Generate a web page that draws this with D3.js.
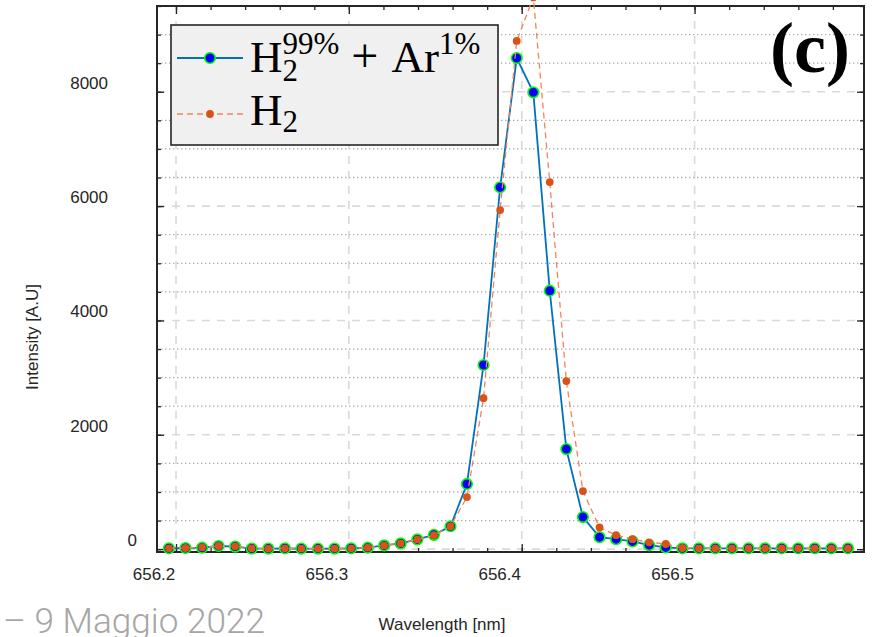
<!DOCTYPE html>
<html>
<head>
<meta charset="utf-8">
<script src="https://cdnjs.cloudflare.com/ajax/libs/d3/7.8.5/d3.min.js"></script>
<style>
  body { margin: 0; background: #ffffff; }
  svg { display: block; }
</style>
</head>
<body>
<div id="spectrum"></div>
<script>
//********************************************************************//
//
//                    DATA
//
//*******************************************************************//

  var wavelength = [656.1959, 656.2055, 656.2151, 656.2246, 656.2342, 656.2438,
                    656.2534, 656.2630, 656.2725, 656.2821, 656.2917, 656.3013,
                    656.3109, 656.3204, 656.3300, 656.3396, 656.3492, 656.3588,
                    656.3683, 656.3779, 656.3875, 656.3971, 656.4067, 656.4162,
                    656.4258, 656.4354, 656.4450, 656.4546, 656.4641, 656.4737,
                    656.4833, 656.4929, 656.5025, 656.5120, 656.5216, 656.5312,
                    656.5408, 656.5504, 656.5599, 656.5695, 656.5791, 656.5887];

  // H2 99% + Ar 1%
  var intensityMix = [15, 20, 25, 55, 45, 10, 10, 15, 10, 10, 10, 15,
                      25, 65, 100, 170, 250, 400, 1140, 3220, 6330, 8590,
                      7990, 4520, 1750, 560, 210, 175, 135, 70, 30, 15,
                      15, 15, 15, 15, 15, 15, 15, 15, 15, 15];

  // pure H2
  var intensityH2 = [15, 20, 30, 55, 50, 15, 10, 15, 10, 10, 10, 15,
                     25, 65, 100, 170, 245, 400, 910, 2640, 5930, 8890,
                     9650, 6420, 2940, 1015, 380, 245, 175, 120, 90, 20,
                     15, 15, 15, 15, 15, 15, 15, 15, 15, 15];

  var xTicks = [656.2, 656.3, 656.4, 656.5];
  var xTickLabels = ["656.2", "656.3", "656.4", "656.5"];
  var yTicks = [0, 2000, 4000, 6000, 8000];
  var yTickLabels = ["0", "2000", "4000", "6000", "8000"];

  var xLabel = "Wavelength [nm]";
  var yLabel = "Intensity [A.U]";
  var panelTag = "(c)";
  var footerText = "\u2013 9 Maggio 2022";


drawSpectrum();


function drawSpectrum() {

  var width = 874,
      height = 637;

  var x = d3.scaleLinear()
            .domain([656.189, 656.598])
            .range([157, 864]);

  var y = d3.scaleLinear()
            .domain([-50, 9500])
            .range([552, 6]);

  var axisColor = "#262626",
      sans = "'Liberation Sans', Arial, sans-serif",
      serif = "'Liberation Serif', 'Times New Roman', serif";

  var svg = d3.select("#spectrum")
              .append("svg")
              .attr("width", width)
              .attr("height", height);

  // grid ------------------------------------------------------------
  var yMinor = d3.range(500, 9001, 500).filter(function(v){ return v % 2000 !== 0; });
  var yMajorGrid = d3.range(0, 8001, 2000);
  var xMinor = d3.range(656.2, 656.599, 0.02);
  var yMinorTicks = d3.range(0, 9501, 500);

  var grid = svg.append("g");

  grid.selectAll("line.ymin")
      .data(yMinor)
      .enter()
      .append("line")
      .attr("x1", 157).attr("x2", 864)
      .attr("y1", function(d){ return y(d); })
      .attr("y2", function(d){ return y(d); })
      .attr("stroke", "#ababab")
      .attr("stroke-width", 1.3)
      .attr("stroke-dasharray", "1.4,2.6");

  grid.selectAll("line.ymaj")
      .data(yMajorGrid)
      .enter()
      .append("line")
      .attr("x1", 157).attr("x2", 864)
      .attr("y1", function(d){ return y(d); })
      .attr("y2", function(d){ return y(d); })
      .attr("stroke", "#d9d9d9")
      .attr("stroke-width", 1.6)
      .attr("stroke-dasharray", "8,7");

  grid.selectAll("line.xmaj")
      .data(xTicks)
      .enter()
      .append("line")
      .attr("y1", 6).attr("y2", 552)
      .attr("x1", function(d){ return x(d); })
      .attr("x2", function(d){ return x(d); })
      .attr("stroke", "#d9d9d9")
      .attr("stroke-width", 1.6)
      .attr("stroke-dasharray", "8,7");

  // axes (ticks inward, box) ------------------------------------------
  function tickAxis(gen, scale, values, size, tx, ty) {
    var g = svg.append("g")
               .attr("transform", "translate(" + tx + "," + ty + ")")
               .call(gen(scale).tickValues(values).tickSize(size).tickFormat(""));
    g.select(".domain").remove();
    g.selectAll(".tick line").attr("stroke", axisColor).attr("stroke-width", 1.3);
    return g;
  }

  tickAxis(d3.axisBottom, x, xMinor, -4, 0, 552);
  tickAxis(d3.axisBottom, x, xTicks, -8, 0, 552);
  tickAxis(d3.axisTop, x, xMinor, -4, 0, 6);
  tickAxis(d3.axisTop, x, xTicks, -8, 0, 6);
  tickAxis(d3.axisLeft, y, yMinorTicks, -4, 157, 0);
  tickAxis(d3.axisLeft, y, yTicks, -7, 157, 0);
  tickAxis(d3.axisRight, y, yMinorTicks, -4, 864, 0);
  tickAxis(d3.axisRight, y, yTicks, -7, 864, 0);

  svg.append("rect")
     .attr("x", 157).attr("y", 6)
     .attr("width", 864 - 157).attr("height", 552 - 6)
     .attr("fill", "none")
     .attr("stroke", axisColor)
     .attr("stroke-width", 2);

  // tick labels (they sit a bit off their ticks in the original)
  svg.selectAll("text.xtick")
     .data(xTicks)
     .enter()
     .append("text")
     .attr("x", function(d){ return x(d) - 22; })
     .attr("y", 580)
     .attr("text-anchor", "middle")
     .style("font-family", sans)
     .style("font-size", "17px")
     .style("fill", axisColor)
     .text(function(d, i){ return xTickLabels[i]; });

  svg.selectAll("text.ytick")
     .data(yTicks)
     .enter()
     .append("text")
     .attr("x", function(d){ return d === 0 ? 137 : 108; })
     .attr("y", function(d){ return y(d) - 9; })
     .attr("dy", "0.35em")
     .attr("text-anchor", "end")
     .style("font-family", sans)
     .style("font-size", "17px")
     .style("fill", axisColor)
     .text(function(d, i){ return yTickLabels[i]; });

  svg.append("text")
     .attr("x", 442)
     .attr("y", 630)
     .attr("text-anchor", "middle")
     .style("font-family", sans)
     .style("font-size", "17px")
     .style("fill", axisColor)
     .text(xLabel);

  svg.append("text")
     .attr("transform", "translate(38,337) rotate(-90)")
     .attr("text-anchor", "middle")
     .style("font-family", sans)
     .style("font-size", "17px")
     .style("fill", axisColor)
     .text(yLabel);

  // data --------------------------------------------------------------
  var mixData = wavelength.map(function(w, i){ return [w, intensityMix[i]]; });
  var h2Data = wavelength.map(function(w, i){ return [w, intensityH2[i]]; });

  var line = d3.line()
               .x(function(d){ return x(d[0]); })
               .y(function(d){ return y(d[1]); });

  svg.append("path")
     .datum(mixData)
     .attr("d", line)
     .attr("fill", "none")
     .attr("stroke", "#0072BD")
     .attr("stroke-width", 1.8);

  svg.selectAll("circle.mix")
     .data(mixData)
     .enter()
     .append("circle")
     .attr("cx", function(d){ return x(d[0]); })
     .attr("cy", function(d){ return y(d[1]); })
     .attr("r", 5.3)
     .attr("fill", "#0000FF")
     .attr("stroke", "#00FF00")
     .attr("stroke-width", 1.6);

  svg.append("path")
     .datum(h2Data)
     .attr("d", line)
     .attr("fill", "none")
     .attr("stroke", "#F5835A")
     .attr("stroke-width", 1.3)
     .attr("stroke-dasharray", "6,4");

  svg.selectAll("circle.h2")
     .data(h2Data)
     .enter()
     .append("circle")
     .attr("cx", function(d){ return x(d[0]); })
     .attr("cy", function(d){ return y(d[1]); })
     .attr("r", 3.9)
     .attr("fill", "#D95319");

  // legend ------------------------------------------------------------
  var legend = svg.append("g");

  legend.append("rect")
        .attr("x", 171).attr("y", 25)
        .attr("width", 327).attr("height", 120)
        .attr("fill", "#F0F0F0")
        .attr("stroke", axisColor)
        .attr("stroke-width", 1.6);

  legend.append("line")
        .attr("x1", 177).attr("x2", 243).attr("y1", 58).attr("y2", 58)
        .attr("stroke", "#0072BD").attr("stroke-width", 1.8);
  legend.append("circle")
        .attr("cx", 210).attr("cy", 58).attr("r", 5.3)
        .attr("fill", "#0000FF").attr("stroke", "#00FF00").attr("stroke-width", 1.6);

  legend.append("line")
        .attr("x1", 177).attr("x2", 243).attr("y1", 114).attr("y2", 114)
        .attr("stroke", "#F5835A").attr("stroke-width", 1.3)
        .attr("stroke-dasharray", "6,4");
  legend.append("circle")
        .attr("cx", 210).attr("cy", 114).attr("r", 3.9)
        .attr("fill", "#D95319");

  function piece(str, px, py, size) {
    var t = legend.append("text")
                  .attr("x", px).attr("y", py)
                  .style("font-family", serif)
                  .style("font-size", size + "px")
                  .style("fill", "#000")
                  .text(str);
    return t.node().getComputedTextLength();
  }

  // row 1 : H_2^{99%} + Ar^{1%}
  var cx = 250;
  cx += piece("H", cx, 72, 45);
  var wSup = piece("99%", cx, 54, 31);
  piece("2", cx, 81, 31);
  cx += wSup + 12;
  cx += piece("+", cx, 72, 48) + 13;
  cx += piece("Ar", cx, 72, 45);
  piece("1%", cx, 54, 31);

  // row 2 : H_2
  cx = 250;
  cx += piece("H", cx, 125, 45);
  piece("2", cx, 132, 31);

  // panel tag
  svg.append("text")
     .attr("x", 850)
     .attr("y", 72)
     .attr("text-anchor", "end")
     .style("font-family", serif)
     .style("font-weight", "bold")
     .style("font-size", "72px")
     .style("fill", "#000")
     .text(panelTag);

  // footer left over from the slide
  var foot = svg.append("text")
                .attr("x", 3)
                .attr("y", 633)
                .style("font-family", "Roboto, 'Open Sans', sans-serif")
                .style("font-weight", 300)
                .style("font-size", "34px")
                .style("fill", "#a6a6a6")
                .text(footerText);
  var fw = foot.node().getComputedTextLength();
  foot.style("font-size", (34 * 262 / fw) + "px");
}
</script>
</body>
</html>
